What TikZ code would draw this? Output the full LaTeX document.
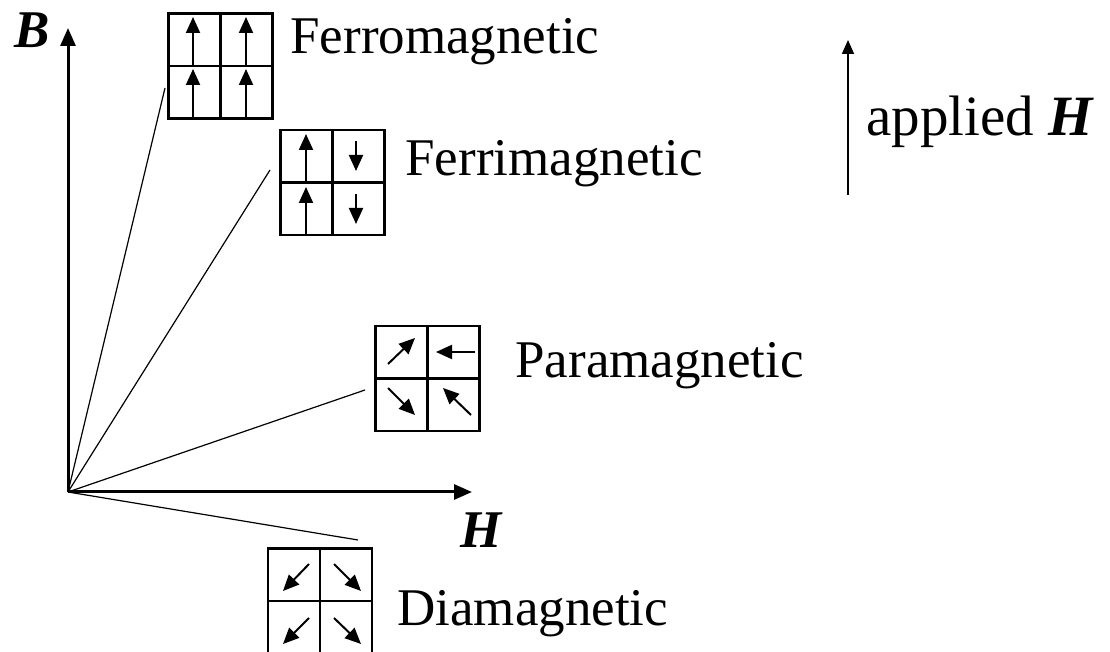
\documentclass[tikz,border=0pt]{standalone}
\usepackage{fontspec}
\setmainfont{Liberation Serif}
\usetikzlibrary{arrows.meta}
\tikzset{
  cellbox/.style={draw, line width=1.1pt, minimum width=52pt, minimum height=52.5pt, inner sep=0pt},
  spin/.style={line width=1pt, -{Triangle[length=8pt,width=7pt]}},
  axisline/.style={line width=1.5pt, -{Triangle[length=9pt,width=7.5pt]}},
  kindtext/.style={anchor=base west, inner sep=0pt, font=\fontsize{26.5}{32}\selectfont},
}
\begin{document}
\begin{tikzpicture}[x=0.5pt,y=-0.5pt]
\useasboundingbox (0,0) rectangle (1110,652);
% axes
\coordinate (O) at (68,492);
\coordinate (Btip) at (68,28);
\coordinate (Htip) at (472,492);
\draw[axisline] (O) -- (Btip);
\draw[axisline] (O) -- (Htip);
\node[kindtext] (Blab) at (14,48) {\textbf{\textit{B}}};
\node[kindtext] (Hlab) at (460,548) {\textbf{\textit{H}}};
% ferromagnetic
\node[cellbox] (ferro) at (220.5,66) {};
\draw[line width=1.1pt] (ferro.north) -- (ferro.south) (ferro.west) -- (ferro.east);
\draw[spin] (193,119) -- (193,69);
\draw[spin] (193,66) -- (193,17);
\draw[spin] (246,119) -- (246,69);
\draw[spin] (246,66) -- (246,17);
\node[kindtext] (ferrotxt) at (290,54) {Ferromagnetic};
\coordinate (ferroend) at (165,88);
\draw[line width=0.6pt] (O) -- (ferroend);
% ferrimagnetic
\node[cellbox] (ferri) at (332.5,182.5) {};
\draw[line width=1.1pt] (ferri.north) -- (ferri.south) (ferri.west) -- (ferri.east);
\draw[spin] (306,235) -- (306,187);
\draw[spin] (306,183) -- (306,134);
\draw[spin] (356,141) -- (356,171);
\draw[spin] (356,194) -- (356,224);
\node[kindtext] (ferritxt) at (405,176) {Ferrimagnetic};
\coordinate (ferriend) at (270,170);
\draw[line width=0.6pt] (O) -- (ferriend);
% paramagnetic
\node[cellbox] (para) at (427.5,378.5) {};
\draw[line width=1.1pt] (para.north) -- (para.south) (para.west) -- (para.east);
\draw[spin] (388,364) -- (415,338);
\draw[spin] (475,352) -- (436,352);
\draw[spin] (388,388) -- (415,415);
\draw[spin] (471,415) -- (443,388);
\node[kindtext] (paratxt) at (515,378) {Paramagnetic};
\coordinate (paraend) at (365,390);
\draw[line width=0.6pt] (O) -- (paraend);
% diamagnetic
\node[cellbox] (dia) at (320,601) {};
\draw[line width=1.1pt] (dia.north) -- (dia.south) (dia.west) -- (dia.east);
\draw[spin] (309,564) -- (283,591);
\draw[spin] (334,564) -- (361,591);
\draw[spin] (309,618) -- (283,644);
\draw[spin] (334,618) -- (361,644);
\node[kindtext] (diatxt) at (397,625) {Diamagnetic};
\coordinate (diaend) at (358,540);
\draw[line width=0.6pt] (O) -- (diaend);
% applied field
\coordinate (appbot) at (848,195);
\coordinate (apptop) at (848,40);
\draw[line width=0.8pt, -{Triangle[length=7pt,width=6pt]}] (appbot) -- (apptop);
\node[kindtext, font=\fontsize{28.5}{34}\selectfont] (apptxt) at (866,136) {applied \textbf{\textit{H}}};
\end{tikzpicture}
\end{document}
